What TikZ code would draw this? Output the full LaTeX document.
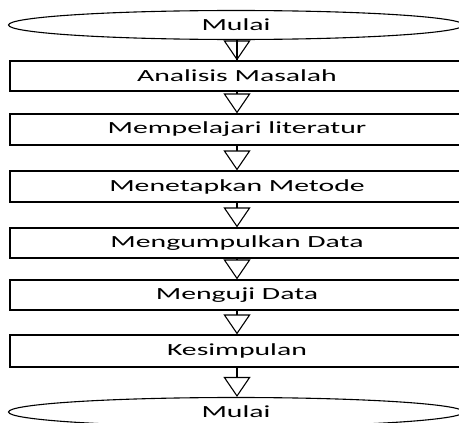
\documentclass[tikz,border=0pt]{standalone}
\usepackage{fontspec}
\setmainfont{Carlito}
\usepackage{graphicx}
\usetikzlibrary{shapes.geometric,arrows.meta}
\newcommand{\wtxt}[1]{\scalebox{1.75}[1]{#1}}
\tikzset{
  stepbox/.style={draw, line width=1.2pt, rectangle, minimum width=454pt, inner sep=0pt, font=\fontsize{17}{20}\selectfont},
  term/.style={draw, line width=1.1pt, ellipse, minimum width=455pt, minimum height=29pt, inner sep=0pt, font=\fontsize{17}{20}\selectfont},
  flow/.style={line width=1.1pt, -{Triangle[open, length=20pt, width=27pt, line width=1.1pt]}}
}
\begin{document}
\begin{tikzpicture}[x=1pt,y=-1pt]
\useasboundingbox (0,0) rectangle (459,423);
\node[term] (start) at (236,25) {\wtxt{Mulai}};
\node[stepbox, minimum height=30pt] (b1) at (237,76) {\wtxt{Analisis Masalah}};
\node[stepbox, minimum height=31pt] (b2) at (237,129.5) {\wtxt{Mempelajari literatur}};
\node[stepbox, minimum height=31pt] (b3) at (237,186.5) {\wtxt{Menetapkan Metode}};
\node[stepbox, minimum height=30pt] (b4) at (237,243) {\wtxt{Mengumpulkan Data}};
\node[stepbox, minimum height=30pt] (b5) at (237,295) {\wtxt{Menguji Data}};
\node[stepbox, minimum height=32pt] (b6) at (237,351) {\wtxt{Kesimpulan}};
\node[term] (stop) at (236,412) {\wtxt{Mulai}};
\draw[line width=1.1pt] (start.south -| b1.north) -- (b1.north);
\draw[flow] (start.south -| b1.north) -- (b1.north);
\draw[flow] (b1) -- (b2);
\draw[flow] (b2) -- (b3);
\draw[flow] (b3) -- (b4);
\draw[flow] (b4) -- (b5);
\draw[flow] (b5) -- (b6);
\draw[flow] (b6.south) -- (b6.south |- stop.north);
\end{tikzpicture}
\end{document}
